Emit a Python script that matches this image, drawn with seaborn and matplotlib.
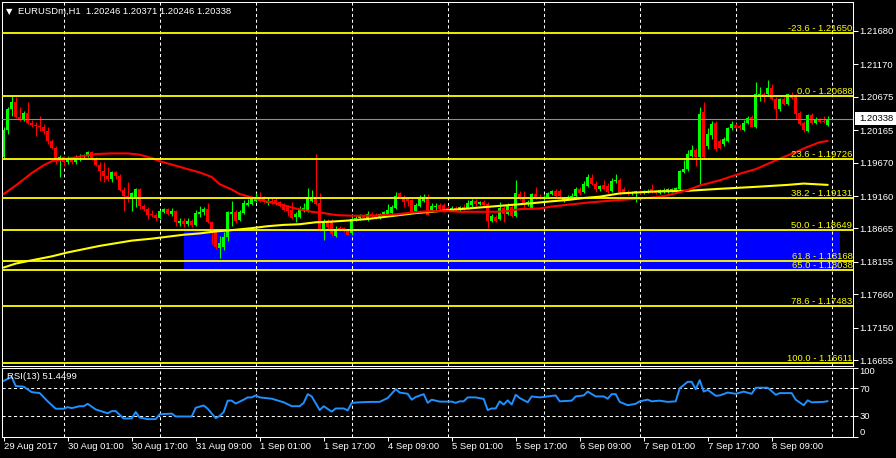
import numpy as np
import pandas as pd
import matplotlib
matplotlib.use("Agg")
import matplotlib.pyplot as plt
import matplotlib.transforms as mtransforms
from matplotlib.patches import Rectangle
import seaborn as sns

# ---- chart data (EURUSDm H1, 29 Aug - 8 Sep 2017) --------------------------
header_text = "EURUSDm,H1  1.20246 1.20371 1.20246 1.20338"
rsi_text = "RSI(13) 51.4499"
last_price = 1.20338

opens = [
    1.1976, 1.2017, 1.2048, 1.2060, 1.2037, 1.2032, 1.2043, 1.2028, 1.2025, 1.2023,
    1.2022, 1.2015, 1.2000, 1.1989, 1.1970, 1.1976, 1.1968, 1.1973, 1.1968, 1.1976,
    1.1977, 1.1979, 1.1983, 1.1973, 1.1963, 1.1954, 1.1947, 1.1942, 1.1953, 1.1947,
    1.1925, 1.1916, 1.1911, 1.1913, 1.1927, 1.1901, 1.1896, 1.1888, 1.1887, 1.1882,
    1.1892, 1.1896, 1.1888, 1.1893, 1.1875, 1.1878, 1.1873, 1.1878, 1.1872, 1.1888,
    1.1892, 1.1896, 1.1876, 1.1862, 1.1836, 1.1839, 1.1853, 1.1888, 1.1892, 1.1879,
    1.1890, 1.1902, 1.1904, 1.1908, 1.1914, 1.1913, 1.1905, 1.1908, 1.1910, 1.1907,
    1.1901, 1.1899, 1.1895, 1.1884, 1.1884, 1.1893, 1.1895, 1.1908, 1.1914, 1.1905,
    1.1862, 1.1878, 1.1876, 1.1855, 1.1867, 1.1867, 1.1864, 1.1859, 1.1881, 1.1882,
    1.1885, 1.1882, 1.1888, 1.1885, 1.1882, 1.1888, 1.1887, 1.1890, 1.1898, 1.1921,
    1.1914, 1.1911, 1.1910, 1.1893, 1.1901, 1.1908, 1.1914, 1.1895, 1.1899, 1.1902,
    1.1902, 1.1898, 1.1895, 1.1898, 1.1895, 1.1899, 1.1898, 1.1902, 1.1908, 1.1904,
    1.1907, 1.1904, 1.1878, 1.1884, 1.1881, 1.1898, 1.1888, 1.1899, 1.1885, 1.1919,
    1.1911, 1.1904, 1.1898, 1.1919, 1.1914, 1.1913, 1.1914, 1.1919, 1.1924, 1.1924,
    1.1908, 1.1913, 1.1914, 1.1916, 1.1927, 1.1922, 1.1931, 1.1944, 1.1934, 1.1927,
    1.1933, 1.1931, 1.1924, 1.1939, 1.1940, 1.1927, 1.1922, 1.1921, 1.1921, 1.1922,
    1.1921, 1.1922, 1.1927, 1.1922, 1.1921, 1.1924, 1.1924, 1.1925, 1.1925, 1.1927,
    1.1953, 1.1957, 1.1977, 1.1986, 1.1976, 1.2044, 1.1993, 1.2009, 1.2028, 1.2000,
    1.1996, 1.2000, 1.2019, 1.2025, 1.2023, 1.2017, 1.2028, 1.2037, 1.2022, 1.2069,
    1.2071, 1.2072, 1.2080, 1.2064, 1.2049, 1.2064, 1.2057, 1.2069, 1.2067, 1.2043,
    1.2028, 1.2015, 1.2040, 1.2028, 1.2032, 1.2031, 1.2025,
]
highs = [
    1.2022, 1.2051, 1.2069, 1.2067, 1.2052, 1.2046, 1.2060, 1.2032, 1.2029, 1.2038,
    1.2026, 1.2022, 1.2003, 1.1993, 1.1979, 1.1977, 1.1977, 1.1976, 1.1979, 1.1980,
    1.1980, 1.1985, 1.1985, 1.1976, 1.1968, 1.1968, 1.1960, 1.1954, 1.1954, 1.1950,
    1.1930, 1.1937, 1.1922, 1.1928, 1.1928, 1.1904, 1.1899, 1.1895, 1.1890, 1.1895,
    1.1898, 1.1898, 1.1898, 1.1895, 1.1882, 1.1882, 1.1882, 1.1881, 1.1895, 1.1901,
    1.1899, 1.1905, 1.1878, 1.1866, 1.1855, 1.1861, 1.1893, 1.1908, 1.1895, 1.1895,
    1.1910, 1.1911, 1.1914, 1.1921, 1.1922, 1.1916, 1.1913, 1.1913, 1.1914, 1.1908,
    1.1905, 1.1902, 1.1907, 1.1892, 1.1901, 1.1905, 1.1928, 1.1925, 1.1980, 1.1921,
    1.1881, 1.1881, 1.1881, 1.1870, 1.1870, 1.1869, 1.1866, 1.1887, 1.1887, 1.1888,
    1.1888, 1.1893, 1.1892, 1.1890, 1.1890, 1.1893, 1.1904, 1.1902, 1.1922, 1.1922,
    1.1918, 1.1913, 1.1911, 1.1905, 1.1918, 1.1919, 1.1919, 1.1905, 1.1905, 1.1905,
    1.1905, 1.1901, 1.1901, 1.1901, 1.1901, 1.1904, 1.1910, 1.1911, 1.1911, 1.1908,
    1.1910, 1.1907, 1.1888, 1.1887, 1.1907, 1.1901, 1.1905, 1.1902, 1.1940, 1.1924,
    1.1924, 1.1910, 1.1921, 1.1930, 1.1919, 1.1918, 1.1922, 1.1925, 1.1927, 1.1927,
    1.1914, 1.1918, 1.1921, 1.1930, 1.1930, 1.1939, 1.1950, 1.1950, 1.1939, 1.1933,
    1.1940, 1.1936, 1.1944, 1.1950, 1.1944, 1.1930, 1.1925, 1.1924, 1.1924, 1.1925,
    1.1925, 1.1927, 1.1934, 1.1925, 1.1927, 1.1928, 1.1928, 1.1928, 1.1930, 1.1956,
    1.1971, 1.1986, 1.1994, 1.1989, 1.2052, 1.2060, 1.2019, 1.2031, 1.2031, 1.2003,
    1.2006, 1.2022, 1.2031, 1.2028, 1.2026, 1.2032, 1.2038, 1.2040, 1.2090, 1.2083,
    1.2075, 1.2093, 1.2087, 1.2067, 1.2066, 1.2067, 1.2072, 1.2075, 1.2071, 1.2046,
    1.2031, 1.2041, 1.2043, 1.2037, 1.2035, 1.2038, 1.2038,
]
lows = [
    1.1973, 1.2011, 1.2038, 1.2035, 1.2031, 1.2031, 1.2026, 1.2022, 1.2008, 1.2015,
    1.2011, 1.1996, 1.1988, 1.1965, 1.1945, 1.1962, 1.1965, 1.1965, 1.1965, 1.1970,
    1.1974, 1.1976, 1.1971, 1.1962, 1.1939, 1.1937, 1.1939, 1.1937, 1.1942, 1.1924,
    1.1893, 1.1907, 1.1893, 1.1899, 1.1896, 1.1893, 1.1881, 1.1884, 1.1878, 1.1881,
    1.1890, 1.1887, 1.1885, 1.1870, 1.1870, 1.1869, 1.1870, 1.1869, 1.1870, 1.1884,
    1.1887, 1.1875, 1.1843, 1.1835, 1.1821, 1.1833, 1.1847, 1.1870, 1.1875, 1.1878,
    1.1888, 1.1901, 1.1902, 1.1907, 1.1907, 1.1905, 1.1902, 1.1904, 1.1902, 1.1899,
    1.1893, 1.1885, 1.1881, 1.1876, 1.1882, 1.1892, 1.1892, 1.1907, 1.1902, 1.1862,
    1.1849, 1.1866, 1.1855, 1.1853, 1.1862, 1.1861, 1.1856, 1.1856, 1.1878, 1.1879,
    1.1881, 1.1878, 1.1884, 1.1881, 1.1881, 1.1885, 1.1885, 1.1888, 1.1896, 1.1913,
    1.1899, 1.1901, 1.1892, 1.1892, 1.1899, 1.1907, 1.1887, 1.1893, 1.1895, 1.1895,
    1.1892, 1.1893, 1.1893, 1.1893, 1.1893, 1.1895, 1.1896, 1.1899, 1.1901, 1.1902,
    1.1901, 1.1867, 1.1876, 1.1876, 1.1879, 1.1876, 1.1887, 1.1884, 1.1884, 1.1910,
    1.1899, 1.1901, 1.1896, 1.1911, 1.1911, 1.1910, 1.1913, 1.1918, 1.1914, 1.1913,
    1.1907, 1.1910, 1.1911, 1.1914, 1.1918, 1.1921, 1.1930, 1.1933, 1.1922, 1.1924,
    1.1925, 1.1921, 1.1922, 1.1936, 1.1918, 1.1921, 1.1918, 1.1918, 1.1907, 1.1919,
    1.1919, 1.1921, 1.1921, 1.1919, 1.1919, 1.1921, 1.1921, 1.1922, 1.1922, 1.1924,
    1.1951, 1.1954, 1.1976, 1.1962, 1.1934, 1.1974, 1.1988, 1.2003, 1.1985, 1.1988,
    1.1993, 1.1999, 1.2017, 1.2019, 1.2017, 1.2015, 1.2026, 1.2022, 1.2020, 1.2061,
    1.2060, 1.2069, 1.2063, 1.2034, 1.2046, 1.2055, 1.2055, 1.2064, 1.2034, 1.2025,
    1.2014, 1.2014, 1.2026, 1.2026, 1.2028, 1.2028, 1.2023,
]
closes = [
    1.2017, 1.2048, 1.2060, 1.2037, 1.2032, 1.2043, 1.2028, 1.2025, 1.2023, 1.2022,
    1.2015, 1.2000, 1.1989, 1.1970, 1.1976, 1.1968, 1.1973, 1.1968, 1.1976, 1.1977,
    1.1979, 1.1983, 1.1973, 1.1963, 1.1954, 1.1947, 1.1942, 1.1953, 1.1947, 1.1925,
    1.1916, 1.1911, 1.1921, 1.1927, 1.1901, 1.1896, 1.1887, 1.1887, 1.1882, 1.1893,
    1.1896, 1.1888, 1.1893, 1.1876, 1.1878, 1.1873, 1.1878, 1.1872, 1.1890, 1.1892,
    1.1896, 1.1876, 1.1862, 1.1838, 1.1844, 1.1853, 1.1892, 1.1892, 1.1878, 1.1892,
    1.1905, 1.1905, 1.1911, 1.1914, 1.1908, 1.1907, 1.1908, 1.1907, 1.1905, 1.1901,
    1.1895, 1.1893, 1.1882, 1.1888, 1.1895, 1.1898, 1.1914, 1.1913, 1.1904, 1.1866,
    1.1878, 1.1869, 1.1858, 1.1866, 1.1864, 1.1862, 1.1856, 1.1881, 1.1882, 1.1885,
    1.1882, 1.1888, 1.1885, 1.1882, 1.1888, 1.1892, 1.1895, 1.1899, 1.1916, 1.1914,
    1.1907, 1.1908, 1.1892, 1.1902, 1.1911, 1.1914, 1.1887, 1.1901, 1.1901, 1.1896,
    1.1893, 1.1895, 1.1898, 1.1895, 1.1899, 1.1898, 1.1905, 1.1908, 1.1904, 1.1907,
    1.1902, 1.1878, 1.1885, 1.1878, 1.1898, 1.1888, 1.1902, 1.1885, 1.1921, 1.1911,
    1.1904, 1.1907, 1.1919, 1.1913, 1.1913, 1.1914, 1.1921, 1.1924, 1.1916, 1.1916,
    1.1913, 1.1914, 1.1916, 1.1927, 1.1921, 1.1934, 1.1945, 1.1934, 1.1927, 1.1931,
    1.1927, 1.1922, 1.1939, 1.1940, 1.1922, 1.1922, 1.1921, 1.1922, 1.1924, 1.1921,
    1.1924, 1.1924, 1.1922, 1.1921, 1.1925, 1.1925, 1.1927, 1.1927, 1.1928, 1.1954,
    1.1957, 1.1980, 1.1986, 1.1976, 1.2041, 1.1976, 1.2011, 1.2026, 1.1988, 1.1989,
    1.2003, 1.2020, 1.2026, 1.2020, 1.2019, 1.2028, 1.2035, 1.2022, 1.2072, 1.2072,
    1.2067, 1.2080, 1.2064, 1.2049, 1.2064, 1.2057, 1.2071, 1.2066, 1.2041, 1.2026,
    1.2017, 1.2040, 1.2028, 1.2032, 1.2029, 1.2029, 1.2034,
]

# fast moving average (red)
ma_fast_bars = [0, 3, 7, 10, 12, 16, 20, 23, 27, 31, 34, 37, 39, 42, 46, 49, 52, 54, 57, 59,
                62, 64, 67, 70, 73, 77, 80, 83, 87, 92, 95, 98, 101, 104, 108, 111, 114, 118, 123, 126,
                129, 134, 137, 140, 146, 154, 163, 166, 171, 174, 179, 184, 188, 191, 194, 198, 201, 204, 206]
ma_fast_vals = [1.1919, 1.1932, 1.1951, 1.1963, 1.1969, 1.1973, 1.1977, 1.1980, 1.1981, 1.1981,
                1.1979, 1.1974, 1.1969, 1.1964, 1.1957, 1.1952, 1.1945, 1.1934, 1.1926, 1.1919,
                1.1914, 1.1910, 1.1906, 1.1902, 1.1897, 1.1892, 1.1890, 1.1887, 1.1886, 1.1886,
                1.1887, 1.1888, 1.1890, 1.1892, 1.1893, 1.1893, 1.1892, 1.1892, 1.1892, 1.1893,
                1.1896, 1.1897, 1.1900, 1.1902, 1.1906, 1.1910, 1.1914, 1.1917, 1.1925, 1.1932,
                1.1940, 1.1950, 1.1957, 1.1965, 1.1973, 1.1983, 1.1991, 1.1998, 1.2000]

# slow moving average (yellow)
ma_slow_bars = [0, 3, 7, 12, 16, 20, 24, 28, 32, 37, 41, 45, 49, 53, 57, 62, 66, 70, 74, 78,
                82, 87, 91, 95, 99, 103, 107, 112, 116, 120, 124, 128, 132, 137, 141, 145, 149, 154, 163, 171,
                179, 188, 196, 200, 203, 206]
ma_slow_vals = [1.1807, 1.1813, 1.1818, 1.1824, 1.1830, 1.1835, 1.1840, 1.1844, 1.1848, 1.1851,
                1.1854, 1.1857, 1.1859, 1.1862, 1.1864, 1.1867, 1.1870, 1.1872, 1.1873, 1.1876,
                1.1877, 1.1879, 1.1881, 1.1884, 1.1887, 1.1890, 1.1892, 1.1895, 1.1897, 1.1899,
                1.1901, 1.1903, 1.1905, 1.1908, 1.1910, 1.1913, 1.1915, 1.1920, 1.1923, 1.1924,
                1.1927, 1.1930, 1.1933, 1.1935, 1.1934, 1.1933]

# RSI(13)
rsi_bars = [0, 2, 3, 5, 7, 9, 11, 13, 15, 16, 17, 19, 20, 21, 23, 26, 27, 28, 30, 32,
            33, 34, 36, 38, 39, 42, 43, 47, 48, 50, 51, 53, 54, 55, 56, 57, 58, 60, 61, 62,
            63, 64, 67, 70, 72, 74, 75, 76, 77, 79, 80, 82, 83, 85, 86, 87, 89, 92, 94, 96,
            98, 99, 101, 102, 103, 105, 106, 107, 109, 112, 113, 114, 115, 116, 118, 120, 121, 122, 123, 124,
            125, 126, 127, 128, 129, 131, 132, 134, 136, 138, 139, 142, 143, 145, 146, 148, 150, 151, 152, 153,
            154, 156, 158, 159, 161, 162, 164, 166, 168, 169, 171, 172, 173, 174, 175, 176, 178, 179, 181, 183,
            185, 187, 188, 191, 193, 194, 197, 198, 200, 201, 202, 205, 206]
rsi_vals = [80.7, 86.3, 73.2, 72.3, 64.4, 63.0, 51.1, 40.4, 40.4, 42.7, 41.3, 44.1, 44.1, 47.5, 39.4, 33.8, 37.0, 37.0, 26.3, 26.3,
            35.6, 27.7, 25.4, 25.4, 32.4, 33.4, 29.2, 29.2, 41.8, 45.1, 40.4, 26.8, 30.0, 35.6, 52.1, 52.1, 47.9, 53.5, 56.8, 56.8,
            59.6, 56.8, 54.9, 49.7, 44.1, 44.1, 48.9, 61.5, 58.2, 38.5, 44.1, 36.2, 40.8, 40.8, 38.0, 48.9, 49.7, 50.3, 50.3, 55.9,
            68.6, 63.8, 62.0, 53.5, 57.3, 61.5, 48.9, 53.5, 50.7, 50.7, 48.9, 51.1, 51.1, 56.8, 56.8, 54.5, 38.5, 40.8, 40.8, 51.1,
            46.5, 52.5, 46.5, 60.6, 55.9, 49.7, 58.2, 56.8, 58.2, 59.6, 51.1, 52.1, 58.2, 59.6, 65.2, 58.2, 58.2, 54.9, 61.5, 61.5,
            50.3, 45.5, 47.5, 51.1, 53.5, 51.1, 52.1, 50.3, 51.1, 70.0, 79.3, 79.3, 68.6, 81.7, 65.2, 67.6, 59.2, 59.6, 63.8, 62.0,
            65.2, 62.0, 70.8, 70.8, 60.6, 63.0, 63.0, 53.5, 45.5, 52.5, 49.7, 50.3, 51.4]

# Fibonacci retracement levels
fib_pct = ["-23.6", "0.0", "23.6", "38.2", "50.0", "61.8", "65.0", "78.6", "100.0"]
fib_price = [1.21650, 1.20688, 1.19726, 1.19131, 1.18649, 1.18168, 1.18038, 1.17483, 1.16611]

# rectangle zone (bar from / to, price low / high)
zone_bars = [45, 209]
zone_prices = [1.18038, 1.18649]

price_ticks = [1.21680, 1.21170, 1.20675, 1.20165, 1.19670, 1.19160,
               1.18665, 1.18155, 1.17660, 1.17150, 1.16655]
rsi_ticks = [0, 30, 70, 100]
rsi_levels = [30, 70]

time_bars = [0, 16, 32, 48, 64, 80, 96, 112, 128, 144, 160, 176, 192]
time_labels = ["29 Aug 2017", "30 Aug 01:00", "30 Aug 17:00", "31 Aug 09:00", "1 Sep 01:00",
               "1 Sep 17:00", "4 Sep 09:00", "5 Sep 01:00", "5 Sep 17:00", "6 Sep 09:00",
               "7 Sep 01:00", "7 Sep 17:00", "8 Sep 09:00"]
grid_bars = [15, 39, 63, 87, 111, 135, 159, 183, 207]

# ---- style ----------------------------------------------------------------
sns.set_theme(style="dark")
plt.rcParams['font.family'] = ['Liberation Sans', 'DejaVu Sans']
FS = 6.8
BULL, BEAR = '#00ff00', '#ff0000'

W, H = 896, 458


def px_rect(x0, y0, x1, y1):
    return [x0 / W, 1 - y1 / H, (x1 - x0) / W, (y1 - y0) / H]


fig = plt.figure(figsize=(W / 100, H / 100), dpi=100, facecolor='black')
ax = fig.add_axes(px_rect(2.3, 2.3, 853.3, 365.5))
axr = fig.add_axes(px_rect(2.3, 367.5, 853.3, 436.7))

XLIM = (-0.35, 212.4)
for a in (ax, axr):
    a.set_facecolor('black')
    a.grid(False)
    a.set_xlim(*XLIM)
    for s in a.spines.values():
        s.set_color('white')
        s.set_linewidth(0.75)
    for b in grid_bars:
        a.axvline(b, color='white', lw=0.75, ls=(0, (3, 2.5)), zorder=0.8)

# ---- main price panel -----------------------------------------------------
df = pd.DataFrame({'open': opens, 'high': highs, 'low': lows, 'close': closes})
df['bar'] = df.index
cols = np.where(df['close'] >= df['open'], BULL, BEAR)

ax.add_patch(Rectangle((zone_bars[0], zone_prices[0]), zone_bars[1] - zone_bars[0],
                       zone_prices[1] - zone_prices[0], fc='#0000ff', ec='none', zorder=0.5))

ax.vlines(df['bar'], df['low'], df['high'], colors=cols, lw=0.8, zorder=2)
body_lo = df[['open', 'close']].min(axis=1)
body_h = (df['close'] - df['open']).abs().clip(lower=0.00008)
ax.bar(df['bar'], body_h, bottom=body_lo, width=0.75, color=cols, lw=0, zorder=2.1)

fast = pd.DataFrame({'bar': ma_fast_bars, 'value': ma_fast_vals})
slow = pd.DataFrame({'bar': ma_slow_bars, 'value': ma_slow_vals})
sns.lineplot(data=slow, x='bar', y='value', ax=ax, color='#ffff00', lw=1.5,
             estimator=None, zorder=3)
sns.lineplot(data=fast, x='bar', y='value', ax=ax, color='#ff0000', lw=1.5,
             estimator=None, zorder=3)

ax.axhline(last_price, color='#8c8c8c', lw=0.8, zorder=3.5)

for pct, p in zip(fib_pct, fib_price):
    ax.axhline(p, color='#ffff00', lw=1.3, zorder=4)
    ax.annotate(f"{pct} - {p:.5f}", xy=(0.999, p),
                xycoords=mtransforms.blended_transform_factory(ax.transAxes, ax.transData),
                xytext=(0, 1.4), textcoords='offset points', ha='right', va='baseline',
                color='#ffff00', fontsize=FS, zorder=5)

ax.set_ylim(1.16576, 1.22114)
ax.set_xticks([])
ax.set_yticks(price_ticks)
ax.set_yticklabels([f"{v:.5f}" for v in price_ticks])
ax.yaxis.tick_right()
ax.tick_params(axis='y', colors='white', labelsize=FS, length=3.5, width=0.75, pad=0.8,
               left=False, right=True)
ax.set_xlabel('')
ax.set_ylabel('')

# last price marker on the scale
bt = mtransforms.blended_transform_factory(ax.transAxes, ax.transData)
ax.add_patch(Rectangle((1.002, last_price - 0.00098), 0.05, 0.00196, transform=bt,
                       fc='white', ec='none', clip_on=False, zorder=6))
ax.text(1.0068, last_price, f"{last_price:.5f}", transform=bt, color='black',
        fontsize=FS, va='center', ha='left', zorder=7, clip_on=False)

ax.text(0.0087, 0.9665, "\u25bc", transform=ax.transAxes, color='white', fontsize=6,
        ha='center', va='baseline', family=['DejaVu Sans'])
ax.text(0.0188, 0.9677, header_text, transform=ax.transAxes, color='white',
        fontsize=FS, ha='left', va='baseline')

# ---- RSI panel ------------------------------------------------------------
rsi_df = pd.DataFrame({'bar': rsi_bars, 'rsi': rsi_vals})
sns.lineplot(data=rsi_df, x='bar', y='rsi', ax=axr, color='#1e90ff', lw=1.4,
             estimator=None, zorder=3)
for lv in rsi_levels:
    axr.axhline(lv, color='white', lw=0.75, ls=(0, (3, 2.5)), zorder=0.8)
axr.set_ylim(0, 100)
axr.set_yticks(rsi_ticks)
axr.set_yticklabels([str(t) for t in rsi_ticks])
axr.yaxis.tick_right()
axr.tick_params(axis='y', colors='white', labelsize=FS, length=3.5, width=0.75, pad=0.8,
                left=False, right=True)
ylabs = axr.get_yticklabels()
ylabs[0].set_va('bottom')
ylabs[-1].set_va('top')

axr.set_xticks(time_bars)
axr.set_xticklabels(time_labels, ha='left')
axr.tick_params(axis='x', colors='white', labelsize=FS, length=3, width=0.75, pad=1,
                bottom=True)
axr.set_xlabel('')
axr.set_ylabel('')
axr.text(0.0059, 0.8295, rsi_text, transform=axr.transAxes, color='white',
         fontsize=FS, ha='left', va='baseline')

fig.savefig('out.png', dpi=100, facecolor='black')
